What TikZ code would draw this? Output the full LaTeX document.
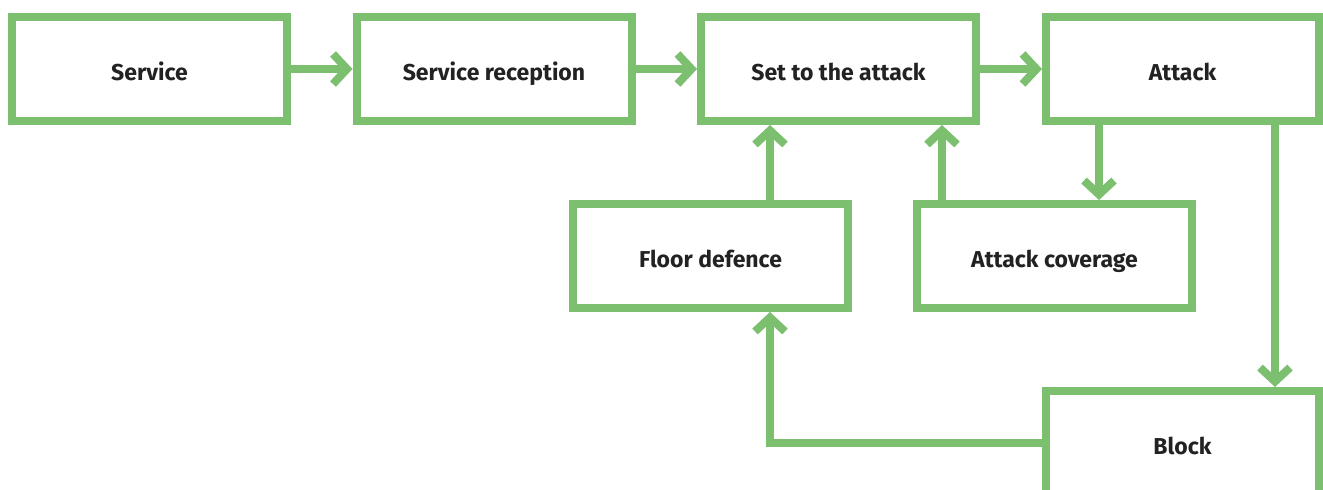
\documentclass[tikz,border=0pt]{standalone}
\usepackage{fontspec}
\setmainfont{Fira Sans}
\usetikzlibrary{arrows.meta,calc}
\definecolor{leaf}{HTML}{7CBF6F}
\definecolor{ink}{HTML}{222222}
\tikzset{
  stage/.style={draw=leaf, line width=8pt, fill=white, minimum width=275pt,
    minimum height=104pt, inner sep=0pt, text=ink,
    text height=22pt, text depth=0pt,
    font=\fontsize{23}{27}\selectfont\bfseries},
  flow/.style={draw=leaf, line width=8pt,
    -{Straight Barb[length=14pt, width=30pt, line join=miter, line cap=butt]}}
}
\begin{document}
\begin{tikzpicture}[x=1pt, y=-1pt]
  \useasboundingbox (0,0) rectangle (1323,490);
  \clip (0,0) rectangle (1323,490);

  % top row
  \node[stage] (srv)  at (149.5,69)  {Service};
  \node[stage] (rec)  at (494,69)    {Service reception};
  \node[stage] (set)  at (838.5,69)  {Set to the attack};
  \node[stage, minimum width=273pt] (att) at (1182.5,69) {Attack};

  % middle row
  \node[stage] (flr)  at (710.5,256)  {Floor defence};
  \node[stage] (cov)  at (1054.5,256) {Attack coverage};

  % bottom box, running past the lower edge
  \node[stage, minimum width=273pt] (blk) at (1182.5,443) {Block};

  % connectors
  \draw[flow] (srv.east) -- (rec.west);
  \draw[flow] (rec.east) -- (set.west);
  \draw[flow] (set.east) -- (att.west);
  \draw[flow] ([xshift=59.5pt]flr.north) -- ([xshift=59.5pt]flr.north |- set.south);
  \draw[flow] ([xshift=-112.5pt]cov.north) -- ([xshift=-112.5pt]cov.north |- set.south);
  \draw[flow] ([xshift=-83.5pt]att.south) -- ([xshift=-83.5pt]att.south |- cov.north);
  \draw[flow] ([xshift=92.5pt]att.south) -- ([xshift=92.5pt]att.south |- blk.north);
  \draw[flow] (blk.west) -| ([xshift=59.5pt]flr.south);
\end{tikzpicture}
\end{document}
